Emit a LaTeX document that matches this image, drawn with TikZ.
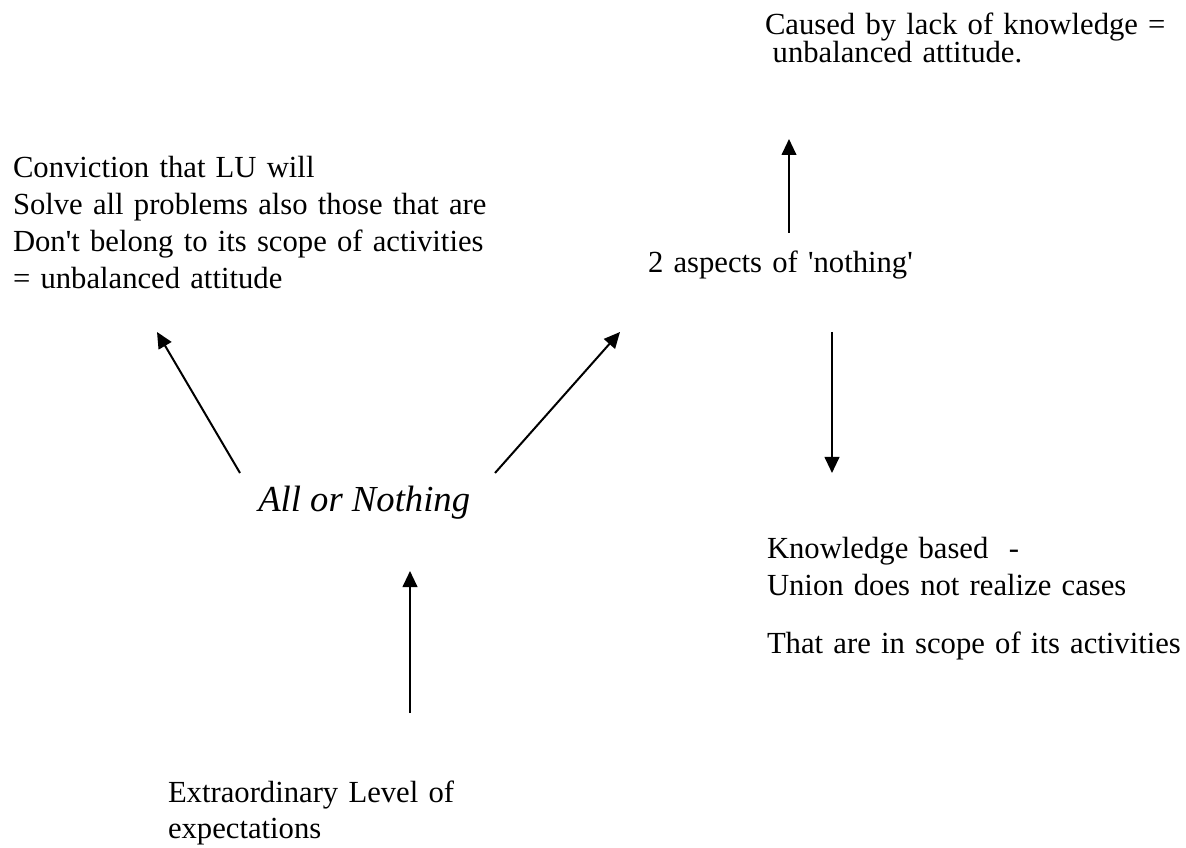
\documentclass[tikz,border=0pt]{standalone}
\usepackage{fontspec}
\setmainfont{Liberation Serif}
\usetikzlibrary{arrows.meta}
\begin{document}
\begin{tikzpicture}[x=0.75pt,y=-0.75pt,
  txt/.style={anchor=base west,inner sep=0pt,outer sep=0pt,align=left,text width=560pt,font=\fontsize{23}{27.6}\selectfont},
  tight/.style={font=\fontsize{23}{21}\selectfont},
  conn/.style={line width=1.5pt,-{Triangle[length=12pt,width=11pt]}}]
\useasboundingbox (0,0) rectangle (1186,848);
% texts
\node[txt,tight] (cause) at (765,35) {Caused by lack of knowledge =\\\hspace*{0.25em}unbalanced attitude.};
\node[txt] (conv) at (13,178) {Conviction that LU will\\Solve all problems also those that are\\Don\textquotesingle t belong to its scope of activities\\= unbalanced attitude};
\node[txt] (aspects) at (648,273) {2 aspects of \textquotesingle nothing\textquotesingle};
\node[anchor=base west,inner sep=0pt,font=\fontsize{27.5}{32}\selectfont\itshape] (all) at (258,512) {All or Nothing};
\node[txt] (know) at (767,559) {Knowledge based\ \ -\\Union does not realize cases\\[16pt]That are in scope of its activities};
\node[txt] (extra) at (168,802) {Extraordinary Level of\\expectations};
% arrow end points
\coordinate (a1s) at (240,473); \coordinate (a1e) at (157,332);
\coordinate (a2s) at (495,473); \coordinate (a2e) at (620,332);
\coordinate (a3s) at (410,713); \coordinate (a3e) at (410,571);
\coordinate (a4s) at (789,233); \coordinate (a4e) at (789,139);
\coordinate (a5s) at (832,332); \coordinate (a5e) at (832,473);
\draw[conn] (a1s) -- (a1e);
\draw[conn] (a2s) -- (a2e);
\draw[conn] (a3s) -- (a3e);
\draw[conn] (a4s) -- (a4e);
\draw[conn] (a5s) -- (a5e);
\end{tikzpicture}
\end{document}
